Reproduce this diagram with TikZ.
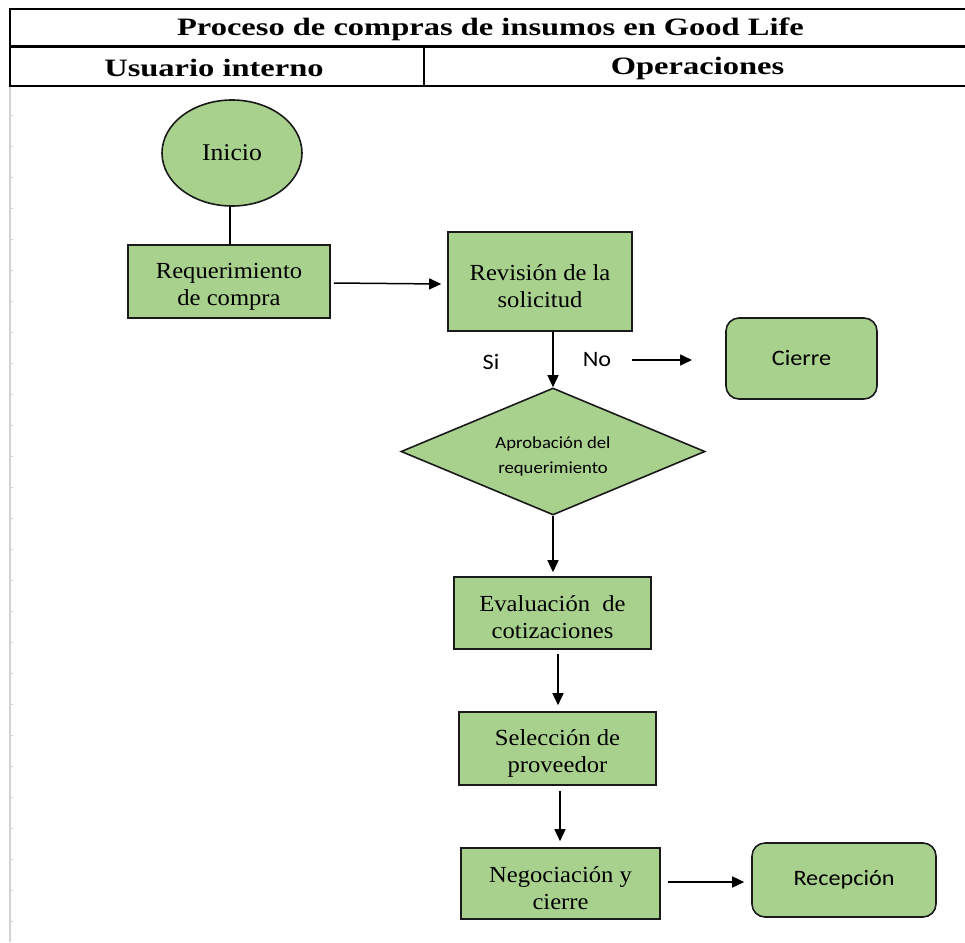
\documentclass[tikz,border=0pt]{standalone}
\usepackage{fontspec}
\setmainfont{Liberation Serif}
\newfontfamily\hdfont[FakeStretch=1.3]{Liberation Serif}
\newfontfamily\boxfont[FakeStretch=1.07]{Liberation Serif}
\newfontfamily\calfont[FakeStretch=1.1]{Carlito}
\usetikzlibrary{shapes.geometric,arrows.meta,calc}
\definecolor{boxgreen}{HTML}{A9D18E}
\definecolor{edge}{HTML}{1A1A1A}
\definecolor{gridgray}{HTML}{D4D4D4}
\newcommand\boxst{\rule{0pt}{25pt}}
\newcommand\diast{\rule{0pt}{21pt}}
\tikzset{
  base/.style={draw=edge, line width=1.6pt, fill=boxgreen, inner sep=0pt, align=center},
  procbox/.style={base, rectangle, font=\boxfont\fontsize{23}{27}\selectfont},
  endbox/.style={base, rectangle, rounded corners=13pt, font=\calfont\fontsize{22}{26}\selectfont},
  startell/.style={base, ellipse, font=\boxfont\fontsize{24}{27}\selectfont},
  decision/.style={base, diamond, font=\calfont\fontsize{17}{25}\selectfont},
  lbl/.style={inner sep=0pt, font=\calfont\fontsize{22}{26}\selectfont},
  hd/.style={inner sep=0pt, font=\hdfont\bfseries\fontsize{25}{28}\selectfont},
  arr/.style={draw=black, line width=1.5pt, -{Triangle[length=12pt,width=11pt]}},
  conn/.style={draw=black, line width=1.5pt},
  tbl/.style={draw=black, line width=2.5pt},
}
\begin{document}
\begin{tikzpicture}[x=1pt,y=-1pt]
\useasboundingbox (0,0) rectangle (965,942);
\fill[white] (0,0) rectangle (965,942);
% grid line at left
\draw[gridgray, line width=2pt] (10,86) -- (10,942);
\foreach \k in {0,...,26} {
  \draw[gridgray, line width=1pt] (10,115+31*\k) -- (12.5,115+31*\k);
}
% table header
\draw[tbl] (966,9) -- (10,9) -- (10,86) -- (966,86);
\draw[tbl] (10,46.5) -- (966,46.5);
\draw[tbl] (424,46.5) -- (424,86);
\node[hd] (title) at (490.5,29) {Proceso de compras de insumos en Good Life};
\node[hd] (lane1) at (214,68) {Usuario interno};
\node[hd] (lane2) at (697.5,68) {Operaciones};
% nodes
\node[startell, minimum width=140pt, minimum height=106pt] (inicio) at (232,153) {Inicio};
\node[procbox, minimum width=202pt, minimum height=73pt] (req) at (229,281.5) {\boxst Requerimiento\\de compra};
\node[procbox, minimum width=184pt, minimum height=99pt] (rev) at (540,281.5) {\boxst Revisión de la\\solicitud};
\node[decision, minimum width=304pt, minimum height=127pt, aspect=2.4] (dia) at (553,451.5) {\diast Aprobación del\\requerimiento};
\node[endbox, minimum width=151pt, minimum height=81pt] (cierre) at (801.5,358.5) {Cierre};
\node[procbox, minimum width=197pt, minimum height=72pt] (eval) at (552.5,613) {\boxst Evaluación\ \ de\\cotizaciones};
\node[procbox, minimum width=197pt, minimum height=73pt] (sel) at (557.5,748.5) {\boxst Selección de\\proveedor};
\node[procbox, minimum width=199pt, minimum height=71pt] (neg) at (560.5,883.5) {\boxst Negociación y\\cierre};
\node[endbox, minimum width=184pt, minimum height=74pt] (recep) at (844,880) {Recepción};
\node[lbl] (si) at (491,362) {Si};
\node[lbl] (no) at (597,360) {No};
\coordinate (noA) at (632,360);
\coordinate (noB) at (692,360);
% connectors
\draw[conn] (inicio.south -| 230,0) -- (req.north -| 230,0);
\draw[arr] ($(req.east)+(3,1.5)$) -- ($(rev.west)+(-6,2.5)$);
\draw[arr] (dia.north |- rev.south) -- (dia.north);
\draw[arr] (noA) -- (noB);
\draw[arr] (dia.south) -- ($(eval.north)+(0.5,-4)$);
\draw[arr] ($(eval.south -| sel.north)+(0.5,4)$) -- ($(sel.north)+(0.5,-6)$);
\draw[arr] ($(sel.south -| neg.north)+(-0.5,5)$) -- ($(neg.north)+(-0.5,-6)$);
\draw[arr] ($(neg.east)+(7,-1.5)$) -- ($(recep.west)+(-7,2)$);
\end{tikzpicture}
\end{document}
